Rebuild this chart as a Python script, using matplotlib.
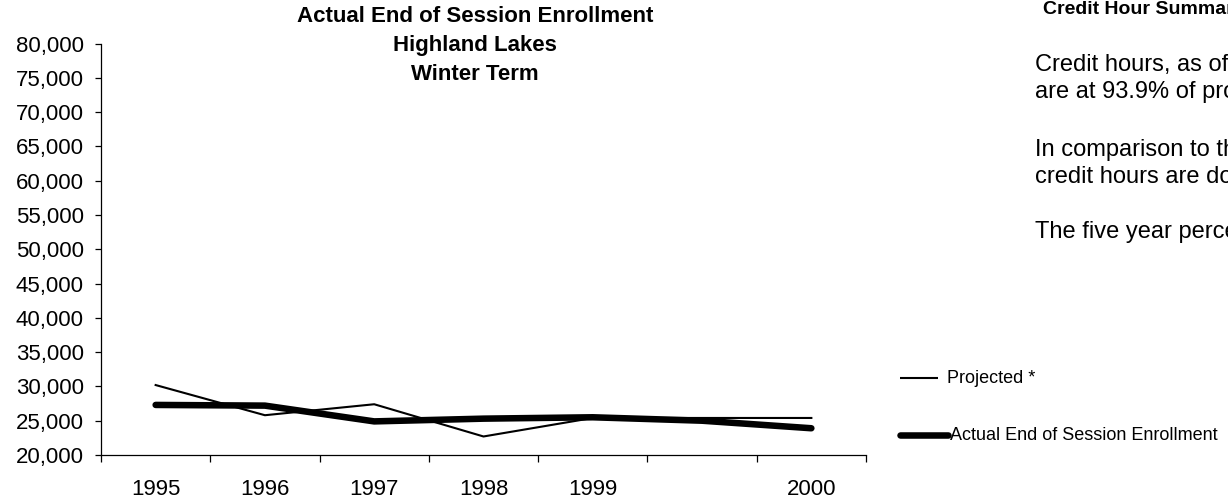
import matplotlib
matplotlib.use("Agg")
import matplotlib.pyplot as plt
from matplotlib.lines import Line2D
from matplotlib.ticker import FuncFormatter, MultipleLocator

plt.rcParams['font.family'] = ['Liberation Sans', 'DejaVu Sans']

# data
years = ['1995', '1996', '1997', '1998', '1999', '', '2000']
projected = [30200, 25800, 27400, 22700, 25400, 25400, 25400]
actual = [27300, 27200, 24900, 25300, 25500, 25000, 23900]
series_labels = ['Projected *', 'Actual End of Session Enrollment']

title_lines = ['Actual End of Session Enrollment', 'Highland Lakes', 'Winter Term']
summary_head = 'Credit Hour Summary'
summary_body = [
    ('Credit hours, as of the', 65),
    ('are at 93.9% of projected', 92),
    ('In comparison to the', 150),
    ('credit hours are down', 177),
    ('The five year percent', 232),
]

W, H = 1228, 498


def fx(px):
    return px / W


def fy(py):
    return 1 - py / H


fig = plt.figure(figsize=(W / 100, H / 100), dpi=100)
ax = fig.add_axes([fx(101), fy(455), fx(866 - 101), (455 - 43.5) / H])

x = list(range(len(years)))
thin_lw, thick_lw = 1.5, 4.7
ax.plot(x, projected, color='black', lw=thin_lw)
ax.plot(x, actual, color='black', lw=thick_lw, solid_capstyle='round')

ax.set_xlim(-0.5, len(years) - 0.5)
ax.set_ylim(20000, 80000)
ax.yaxis.set_major_locator(MultipleLocator(5000))
ax.yaxis.set_major_formatter(FuncFormatter(lambda v, p: f'{int(v):,}'))

ax.set_xticks(x)
ax.set_xticklabels(years)
ax.set_xticks([i - 0.5 for i in range(len(years) + 1)], minor=True)
ax.tick_params(axis='x', which='major', length=0, pad=17, labelsize=16)
ax.tick_params(axis='x', which='minor', length=5, direction='out', width=0.9)
ax.tick_params(axis='y', length=4.3, direction='out', width=0.9, labelsize=16, pad=8)

for side in ['top', 'right']:
    ax.spines[side].set_visible(False)
ax.spines['left'].set_linewidth(0.9)
ax.spines['bottom'].set_linewidth(0.9)

for i, line in enumerate(title_lines):
    fig.text(fx(475), fy(16 + 29 * i), line, ha='center', va='center',
             fontsize=16, weight='bold')

# legend, drawn by hand to the right of the plot
legend_rows = [(378, 900, 938, thin_lw, 947), (435, 900, 948, thick_lw, 950)]
for (ly, x0, x1, lw, tx), label in zip(legend_rows, series_labels):
    fig.add_artist(Line2D([fx(x0), fx(x1)], [fy(ly), fy(ly)], color='black', lw=lw,
                          solid_capstyle='round' if lw > 2 else 'butt'))
    fig.text(fx(tx), fy(ly), label, ha='left', va='center', fontsize=13)

fig.text(fx(1043), fy(10), summary_head, ha='left', va='center', fontsize=14, weight='bold')
for line, ly in summary_body:
    fig.text(fx(1035), fy(ly), line, ha='left', va='center', fontsize=17)

fig.savefig('out.png', dpi=100, facecolor='white')
